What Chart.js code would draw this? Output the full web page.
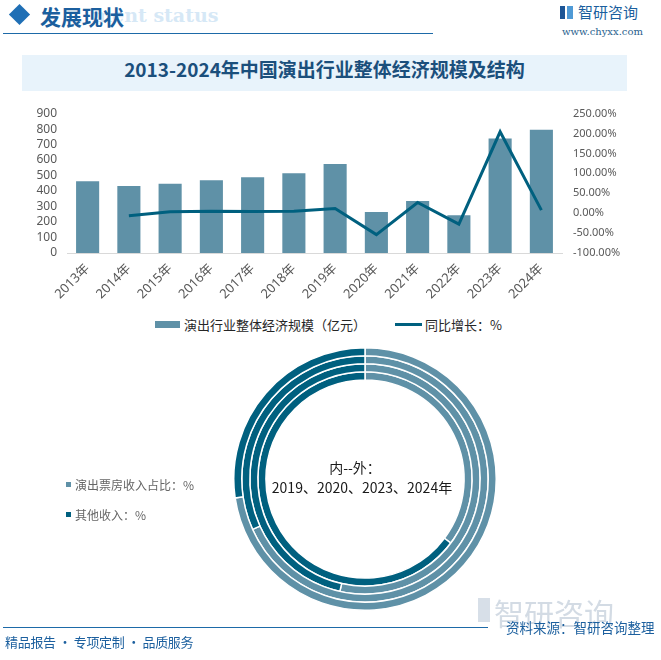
<!DOCTYPE html>
<html>
<head>
<meta charset="utf-8">
<script src="https://cdn.jsdelivr.net/npm/chart.js@4"></script>
<style>
  body { margin: 0; background: #fff; font-family: "Noto Sans CJK SC", "Noto Sans", sans-serif; }
  #page { position: relative; width: 661px; height: 660px; overflow: hidden; background: #fff; }
  .abs { position: absolute; white-space: nowrap; }
  canvas { position: absolute; }
</style>
</head>
<body>
<div id="page">
  <!-- header -->
  <div class="abs" style="left:12px;top:7px;width:15px;height:15px;background:#1f6fb5;transform:rotate(45deg);"></div>
  <div class="abs" style="left:92px;top:4px;font:bold 19px 'DejaVu Serif',serif;color:#d6e8f6;">ment status</div>
  <div class="abs" style="left:40px;top:1px;font:bold 21px 'Noto Sans CJK SC';color:#1b5f9e;">发展现状</div>
  <div class="abs" style="left:3px;top:33px;width:430px;height:1px;background:#1d6aa8;"></div>
  <div class="abs" style="left:560px;top:6px;width:5px;height:13px;background:#1c5596;"></div>
  <div class="abs" style="left:567px;top:6px;width:6px;height:13px;background:#4f9ad6;"></div>
  <div class="abs" style="left:578px;top:1px;font:15px 'Noto Sans CJK SC';color:#1b5f9e;">智研咨询</div>
  <div class="abs" style="left:562px;top:26px;font:10px 'DejaVu Serif',serif;color:#2a5f8e;">www.chyxx.com</div>

  <!-- title -->
  <div class="abs" style="left:22px;top:55px;width:605px;height:36px;background:#e8f3fb;"></div>
  <div class="abs" style="left:22px;top:55px;width:605px;height:36px;line-height:36px;text-align:center;font:bold 19px 'Noto Sans CJK SC';color:#1b4f7c;">2013-2024年中国演出行业整体经济规模及结构</div>

  <canvas id="chart-bar" width="620" height="214" style="left:20px;top:96px;"></canvas>

  <!-- bar legend -->
  <div class="abs" style="left:155px;top:321px;width:25px;height:7px;background:#5f91a7;"></div>
  <div class="abs" style="left:184px;top:315px;font:13px 'Noto Sans CJK SC';color:#262626;">演出行业整体经济规模（亿元）</div>
  <div class="abs" style="left:395px;top:323px;width:27px;height:3px;background:#00607f;"></div>
  <div class="abs" style="left:425px;top:315px;font:13px 'Noto Sans CJK SC';color:#262626;">同比增长：%</div>

  <canvas id="chart-ring" width="264" height="264" style="left:233px;top:347px;"></canvas>

  <!-- ring centre text -->
  <div class="abs" style="left:255px;top:457px;width:200px;text-align:center;font:14px 'Noto Sans CJK SC';color:#1a1a1a;">内--外：</div>
  <div class="abs" style="left:262px;top:477px;width:200px;text-align:center;font:14px 'Noto Sans CJK SC';color:#1a1a1a;">2019、2020、2023、2024年</div>

  <!-- ring legend -->
  <div class="abs" style="left:66px;top:482px;width:5px;height:5px;background:#5f91a7;"></div>
  <div class="abs" style="left:75px;top:476px;font:12px 'Noto Sans CJK SC';color:#666;">演出票房收入占比：%</div>
  <div class="abs" style="left:66px;top:512px;width:5px;height:5px;background:#00607f;"></div>
  <div class="abs" style="left:75px;top:506px;font:12px 'Noto Sans CJK SC';color:#666;">其他收入：%</div>

  <!-- footer -->
  <div class="abs" style="left:478px;top:598px;width:12px;height:24px;background:#d7dfe8;"></div>
  <div class="abs" style="left:494px;top:590px;font:30px 'Noto Sans CJK SC';color:#d3dbe4;">智研咨询</div>
  <div class="abs" style="left:3px;top:627px;width:485px;height:1px;background:#1d6aa8;"></div>
  <div class="abs" style="left:506px;top:617px;font:13.5px 'Noto Sans CJK SC';color:#1b5f9e;">资料来源：智研咨询整理</div>
  <div class="abs" style="left:5px;top:632px;font:13px 'Noto Sans CJK SC';color:#1b5f9e;letter-spacing:-0.3px;">精品报告 · 专项定制 · 品质服务</div>
</div>

<script>
  // categories
  const years = ['2013年', '2014年', '2015年', '2016年', '2017年', '2018年',
                 '2019年', '2020年', '2021年', '2022年', '2023年', '2024年'];
  // 演出行业整体经济规模（亿元）
  const marketSize = [463, 431.8, 446.6, 469.2, 489.5, 514.1, 573.8, 264.8, 335.9, 243.1, 739.9, 796.1];
  // 同比增长（%）
  const growth = [null, -6.7, 3.4, 5.1, 4.3, 5.0, 11.6, -53.8, 26.8, -27.6, 204.3, 7.6];

  // ring chart: inner -> outer
  const ringYears = ['2019', '2020', '2023', '2024'];
  const ringParts = ['演出票房收入占比', '其他收入'];
  const boxOfficeShare = [35.2, 53.5, 68.3, 72.7];
  const otherShare = [64.8, 46.5, 31.7, 27.3];

  const LIGHT = '#5f91a7';
  const DARK = '#00607f';
  const TICK = '#595959';
  const FONT = "'Noto Sans', 'Noto Sans CJK SC', sans-serif";

  new Chart(document.getElementById('chart-bar'), {
    type: 'bar',
    data: {
      labels: years,
      datasets: [
        {
          type: 'line',
          label: '同比增长：%',
          data: growth,
          yAxisID: 'y1',
          borderColor: DARK,
          borderWidth: 3,
          pointRadius: 0,
          tension: 0,
          order: 0
        },
        {
          label: '演出行业整体经济规模（亿元）',
          data: marketSize,
          backgroundColor: LIGHT,
          barPercentage: 0.56,
          categoryPercentage: 1,
          order: 1
        }
      ]
    },
    options: {
      responsive: false,
      animation: false,
      layout: { padding: { top: 6 } },
      plugins: { legend: { display: false }, tooltip: { enabled: false } },
      scales: {
        x: {
          grid: { display: false, drawTicks: false },
          border: { color: '#d9d9d9' },
          ticks: { color: TICK, font: { family: FONT, size: 13 }, maxRotation: 45, minRotation: 45, padding: 8, autoSkip: false },
          afterFit: s => { s.height = 57; }
        },
        y: {
          min: 0, max: 900,
          grid: { display: false, drawTicks: false },
          border: { display: false },
          ticks: { stepSize: 100, color: TICK, font: { family: FONT, size: 12 }, padding: 10, autoSkip: false },
          afterFit: s => { s.width = 47; }
        },
        y1: {
          position: 'right',
          min: -100, max: 250,
          grid: { display: false, drawTicks: false },
          border: { display: false },
          ticks: {
            stepSize: 50, color: TICK, font: { family: FONT, size: 11 }, padding: 11, autoSkip: false,
            callback: v => v.toFixed(2) + '%'
          },
          afterFit: s => { s.width = 78; }
        }
      }
    }
  });

  // outermost dataset first in Chart.js
  const ringSets = [];
  for (let i = ringYears.length - 1; i >= 0; i--) {
    ringSets.push({
      label: ringYears[i],
      data: [boxOfficeShare[i], otherShare[i]],
      backgroundColor: [LIGHT, DARK],
      borderColor: '#fff',
      borderWidth: 1.5
    });
  }

  new Chart(document.getElementById('chart-ring'), {
    type: 'doughnut',
    data: { labels: ringParts, datasets: ringSets },
    options: {
      responsive: false,
      animation: false,
      cutout: '75.5%',
      plugins: { legend: { display: false }, tooltip: { enabled: false } }
    }
  });
</script>
</body>
</html>
